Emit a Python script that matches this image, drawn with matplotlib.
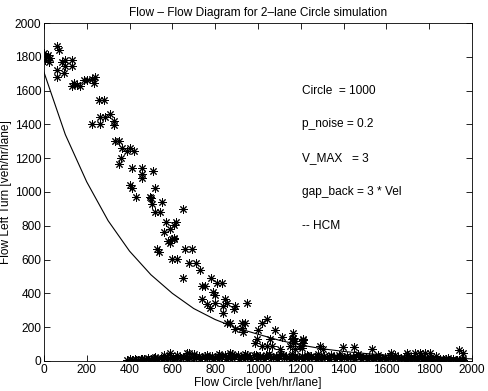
import matplotlib
matplotlib.use('Agg')
import matplotlib.pyplot as plt

plt.rcParams['font.family'] = ['Liberation Sans', 'DejaVu Sans']
plt.rcParams['font.size'] = 8.6

# scattered simulation points (veh/hr/lane)
flow_circle = [62, 69, 0, 8, 18, 28, 5, 22, 85, 100, 131, 100, 131, 62, 92, 62,
               132, 139, 155, 170, 186, 202, 225, 240, 232, 256, 279, 264, 287, 310,
               225, 264, 326, 326, 334, 349, 365, 388, 404, 419, 360, 349, 412, 458,
               510, 458, 458, 400, 412, 520, 432, 494, 500, 505, 552, 520, 544, 650,
               572, 618, 606, 590, 559, 582, 598, 606, 590, 609, 528, 540, 660, 692,
               598, 622, 680, 712, 730, 650, 780, 808, 832, 738, 754, 792, 800, 738,
               762, 777, 800, 847, 855, 894, 886, 839, 839, 951, 855, 870, 894, 925,
               940, 925, 932, 1018, 1042, 1002, 995, 987, 1080, 1112, 1018, 1042, 1057,
               1166, 1158, 1174, 1150, 1197, 1212, 1166, 1166, 1210, 1210, 1205, 1174,
               1065, 1104, 1290, 1306, 1399, 1449, 1531, 1620, 1698, 1734, 1757, 1780,
               1804, 1889, 1940, 1959, 1952, 520, 590, 676, 668, 870]
flow_left = [1863, 1839, 1820, 1800, 1812, 1792, 1780, 1772, 1768, 1784, 1780, 1744, 1744, 1725, 1705, 1682,
             1626, 1646, 1636, 1626, 1662, 1662, 1670, 1682, 1646, 1543, 1543, 1445, 1445, 1464,
             1403, 1403, 1419, 1399, 1301, 1301, 1262, 1241, 1262, 1241, 1202, 1163, 1143, 1143,
             1123, 1104, 1084, 1044, 1025, 1021, 969, 969, 966, 926, 942, 880, 880, 900,
             821, 821, 802, 782, 762, 709, 719, 729, 699, 723, 660, 644, 660, 660,
             601, 601, 581, 581, 541, 488, 488, 463, 463, 443, 443, 407, 388, 364,
             334, 315, 344, 364, 344, 324, 305, 324, 281, 344, 226, 226, 186, 226,
             226, 196, 170, 226, 246, 182, 127, 108, 182, 143, 88, 88, 127,
             163, 127, 117, 88, 88, 127, 137, 108, 124, 104, 78, 68,
             88, 68, 88, 68, 84, 84, 68, 48, 48, 48, 48, 48,
             48, 19, 64, 48, 10, 25, 48, 48, 44, 44]

# dense band of points near zero
band_circle = [390, 400, 410, 425, 440, 455, 470, 485, 500, 515, 530, 545, 560, 575, 590, 605,
               620, 635, 650, 665, 680, 695, 710, 725, 740, 755, 770, 785, 800, 815, 830, 845,
               860, 875, 890, 905, 920, 935, 950, 965, 980, 995, 1010, 1025, 1040, 1055, 1070,
               1085, 1100, 1115, 1130, 1145, 1160, 1175, 1190, 1205, 1220, 1235, 1250, 1265,
               1280, 1295, 1310, 1325, 1340, 1355, 1370, 1385, 1400, 1415, 1430, 1445, 1460,
               1475, 1490, 1505, 1520, 1535, 1550, 1565, 1580, 1595, 1610, 1625, 1640, 1655,
               1670, 1685, 1700, 1715, 1730, 1745, 1760, 1775, 1790, 1805, 1820, 1835, 1850,
               1865, 1880, 1895, 1910, 1925, 1940, 1955]
band_left = [6, 10, 8, 12, 8, 14, 10, 16, 12, 18, 14, 20, 16, 22, 18, 24,
             20, 26, 22, 28, 24, 26, 24, 30, 22, 28, 26, 30, 24, 28, 26, 32,
             24, 30, 28, 34, 24, 30, 32, 26, 32, 28, 30, 26, 34, 28, 26,
             30, 28, 32, 28, 26, 30, 28, 24, 28, 26, 30, 28, 24,
             28, 26, 30, 24, 28, 24, 26, 28, 24, 28, 22, 26, 28,
             24, 22, 26, 22, 26, 20, 24, 20, 22, 20, 24, 18, 22,
             20, 18, 22, 18, 20, 16, 18, 14, 16, 12, 14, 10, 12,
             10, 12, 8, 10, 8, 8, 6]
band_circle2 = [400, 430, 460, 490, 520, 550, 580, 610, 640, 670, 700, 730, 760, 790, 820, 850,
                880, 910, 940, 970, 1000, 1030, 1060, 1090, 1120, 1150, 1180, 1210, 1240, 1270,
                1300, 1330, 1360, 1390, 1420, 1450, 1480, 1510, 1540, 1570, 1600, 1630, 1660,
                1690, 1720, 1750, 1780, 1810, 1840, 1870, 1900, 1930, 1960]
band_left2 = [10, 6, 12, 8, 14, 10, 16, 12, 18, 14, 16, 12, 18, 14, 16, 12,
              18, 14, 16, 12, 18, 14, 16, 12, 18, 14, 16, 12, 18, 14,
              16, 12, 14, 10, 16, 12, 14, 10, 16, 12, 14, 10, 12,
              8, 12, 10, 8, 10, 8, 6, 6, 6, 5]
band_circle3 = [560, 620, 700, 760, 820, 880, 940, 990, 1050, 1110, 1160, 1230, 1280,
                1340, 1380, 1470, 1560, 1640, 1700, 1760, 1830]
band_left3 = [36, 34, 38, 36, 40, 38, 42, 36, 40, 38, 42, 36, 38,
              36, 34, 38, 34, 36, 32, 34, 30]

# HCM curve
hcm_x = [0, 100, 200, 300, 400, 500, 600, 700, 800, 900, 1000, 1100, 1200, 1300, 1400,
         1500, 1600, 1700, 1800, 1900, 2000]
hcm_y = [1710, 1340, 1060, 830, 650, 510, 400, 310, 245, 195, 158, 122, 94, 72, 56,
         44, 34, 27, 21, 16, 12]

labels = ['Circle  = 1000', 'p_noise = 0.2', 'V_MAX   = 3', 'gap_back = 3 * Vel', '-- HCM']
label_y = [1600, 1400, 1200, 1000, 800]

fig = plt.figure(figsize=(4.88, 3.91), dpi=100)
ax = fig.add_axes([0.090, 0.077, 0.877, 0.864])

star = (8, 2, 0)
series = [(flow_circle, flow_left), (band_circle, band_left),
          (band_circle2, band_left2), (band_circle3, band_left3)]
for xs, ys in series:
    ax.plot(xs, ys, linestyle='none', marker=star, markersize=6,
            markeredgewidth=0.7, color='black')
ax.plot(hcm_x, hcm_y, color='black', linewidth=0.8)

for t, yy in zip(labels, label_y):
    ax.text(1204, yy, t, ha='left', va='center')

ax.set_xlim(0, 2000)
ax.set_ylim(0, 2000)
ax.set_xticks(range(0, 2001, 200))
ax.set_yticks(range(0, 2001, 200))
ax.tick_params(direction='in', top=True, right=True, length=4, width=0.6, pad=2)
for s in ax.spines.values():
    s.set_linewidth(0.6)
ax.set_title('Flow \u2013 Flow Diagram for 2\u2013lane Circle simulation', fontsize=8.6, pad=5)
ax.set_xlabel('Flow Circle [veh/hr/lane]', labelpad=1)
ax.set_ylabel('Flow Left Turn [veh/hr/lane]', labelpad=2)

fig.savefig('out.png', dpi=100)
